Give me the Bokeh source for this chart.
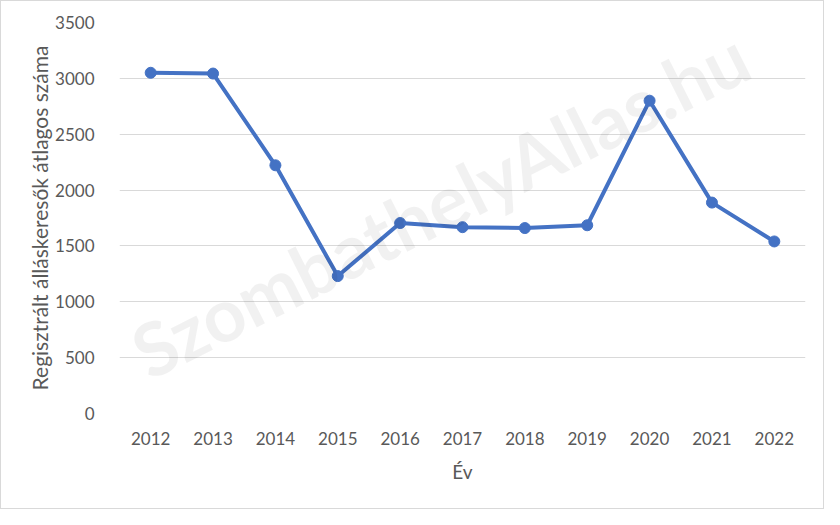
from bokeh.plotting import figure
from bokeh.models import FactorRange, Range1d, Label, SingleIntervalTicker
from bokeh.embed import file_html
from bokeh.resources import INLINE

# data
years = ['2012', '2013', '2014', '2015', '2016', '2017', '2018', '2019', '2020', '2021', '2022']
seekers = [3050, 3043, 2222, 1230, 1705, 1668, 1660, 1685, 2800, 1888, 1540]

FONT = "Lato"
GREY = "#595959"

p = figure(width=824, height=509, x_range=FactorRange(*years, range_padding=0),
           y_range=Range1d(0, 3500), output_backend="svg", toolbar_location=None,
           x_axis_label="Év", y_axis_label="Regisztrált álláskeresők átlagos száma",
           min_border_left=118, min_border_right=20, min_border_top=21, min_border_bottom=97)
p.styles = {"border": "1px solid #d9d9d9"}
p.outline_line_color = None

# faint watermark, kept inside the plot frame so it is not clipped
wm = Label(x=0.6, y=160, text="SzombathelyAllas.hu", angle=26.7, angle_units="deg",
           text_font=FONT, text_font_style="bold", text_font_size="74px",
           text_color="#000000", text_alpha=0.055)
p.add_layout(wm)

p.line(years, seekers, line_color="#4472C4", line_width=4)
p.scatter(years, seekers, size=11, fill_color="#4472C4", line_color="#4472C4")

p.yaxis.ticker = SingleIntervalTicker(interval=500)
p.xgrid.grid_line_color = None
p.ygrid.grid_line_color = "#d9d9d9"
p.ygrid.grid_line_width = 1

for ax in (p.xaxis, p.yaxis):
    ax.axis_line_color = None
    ax.major_tick_line_color = None
    ax.minor_tick_line_color = None
    ax.major_label_text_font = FONT
    ax.major_label_text_font_size = "17px"
    ax.major_label_text_color = GREY
    ax.axis_label_text_font = FONT
    ax.axis_label_text_font_size = "21px"
    ax.axis_label_text_color = GREY
    ax.axis_label_text_font_style = "normal"

p.xaxis.axis_label_text_font_size = "19px"
p.yaxis.major_label_standoff = 19
p.yaxis.axis_label_standoff = 0
p.xaxis.major_label_standoff = 12
p.xaxis.axis_label_standoff = 12

open("out.html", "w").write(file_html(p, INLINE))
